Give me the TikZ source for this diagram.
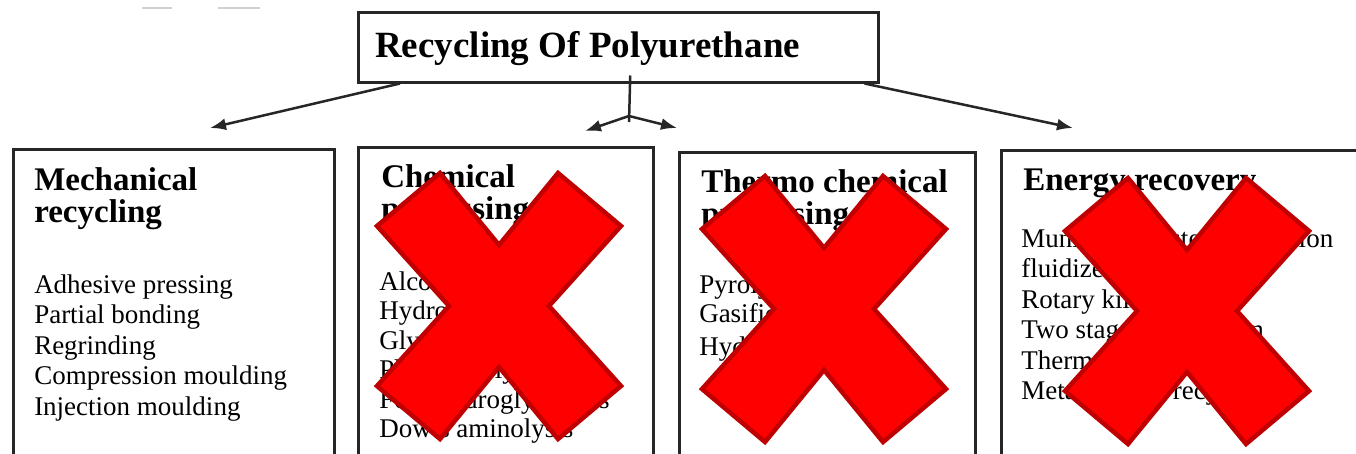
\documentclass[tikz,border=0pt]{standalone}
\usepackage{fontspec}
\setmainfont{Liberation Serif}
\usetikzlibrary{arrows.meta,calc,positioning}

\definecolor{xfill}{RGB}{255,0,0}
\definecolor{xedge}{RGB}{192,0,0}

% one column of lines, first baseline on the node's base
\newcommand{\stackrows}[1]{\begin{tabular}[t]{@{}l@{}}#1\end{tabular}}

\tikzset{
  bigx/.pic={
    \draw[redx] (-59,-133) -- (0,-61) -- (59,-133) -- (122,-80) -- (50,0) -- (122,80)
      -- (59,133) -- (0,61) -- (-59,133) -- (-122,80) -- (-50,0) -- (-122,-80) -- cycle;
  }
}

\begin{document}
\begin{tikzpicture}[x=1pt,y=-1pt,>={Latex[length=16pt,width=12pt]},line width=2.5pt,
  box/.style={draw=black!85,anchor=north west,inner sep=0pt},
  head/.style={anchor=base west,inner sep=0pt,font=\fontsize{33}{32}\selectfont\bfseries},
  items/.style={anchor=base west,inner sep=0pt,font=\fontsize{27}{#1}\selectfont},
  items/.default=30.5,
  link/.style={->,draw=black!85},
  redx/.style={fill=xfill,draw=xedge,line width=4.5pt,line join=miter}]
  \clip (0,0) rectangle (1356,453);
  \fill[white] (0,0) rectangle (1356,453);
  % --- faint marks at the top ---
  \draw[black!18,line width=2pt] (142,8) -- (172,8);
  \draw[black!18,line width=2pt] (218,8) -- (260,8);
  % --- title ---
  \node[box,minimum width=520,minimum height=70] (title) at (357,11) {};
  \node[anchor=base west,inner sep=0pt,font=\fontsize{37}{40}\selectfont\bfseries] (titletext) at (374,57) {Recycling Of Polyurethane};
  % --- the four boxes (run past the lower edge) ---
  \node[box,minimum width=321,minimum height=330] (mech)   at (12,148)  {};
  \node[box,minimum width=295,minimum height=330] (chem)   at (357,146) {};
  \node[box,minimum width=296,minimum height=330] (thermo) at (678,151) {};
  \node[box,minimum width=420,minimum height=330] (energy) at (1000,149) {};
  % --- arrows from the title ---
  \coordinate (tipmech)   at (210,128);
  \coordinate (tipenergy) at (1073,128);
  \coordinate (fork)      at (629,116);
  \coordinate (tipchem)   at (585,131);
  \coordinate (tipthermo) at (677,128);
  \draw[link] ($(title.south west)+(43,0)$) -- (tipmech);
  \draw[link] ($(title.south east)+(-15,0)$) -- (tipenergy);
  \draw[draw=black!85] ($(title.south)+(12,-8)$) -- ($(fork)+(0,6)$);
  \draw[link] (fork) -- (tipchem);
  \draw[link] (fork) -- (tipthermo);
  % --- box texts ---
  \node[head]  (mechhead)   at (33,190)   {\stackrows{Mechanical\\recycling}};
  \node[items] (mechlist)   at (33,293)   {\stackrows{Adhesive pressing\\Partial bonding\\Regrinding\\Compression moulding\\Injection moulding}};
  \node[head]  (chemhead)   at (380,187)  {\stackrows{Chemical\\processing}};
  \node[items=29.5] (chemlist) at (378,290) {\stackrows{Alcoholysis\\Hydrolysis\\Glycolysis\\Phosphorolysis\\Ford hydroglycolysis\\Dow's aminolysis}};
  \node[head]  (thermohead) at (700,192)  {\stackrows{Thermo chemical\\processing}};
  \node[items=29] (thermolist) at (698,293) {\stackrows{Pyrolysis\\Gasification\\[4pt]Hydrogenation}};
  \node[head]  (energyhead) at (1022,190) {Energy recovery};
  \node[items] (energylist) at (1020,247) {\stackrows{Municipal waste combustion\\fluidized bed\\Rotary kiln\\Two stage combustion\\Thermolysis\\Metallurgical recycling}};
  % --- red crosses over three boxes ---
  \pic at (499,306) {bigx};
  \pic at (824,309) {bigx};
  \pic at (1187,311) {bigx};
\end{tikzpicture}
\end{document}
